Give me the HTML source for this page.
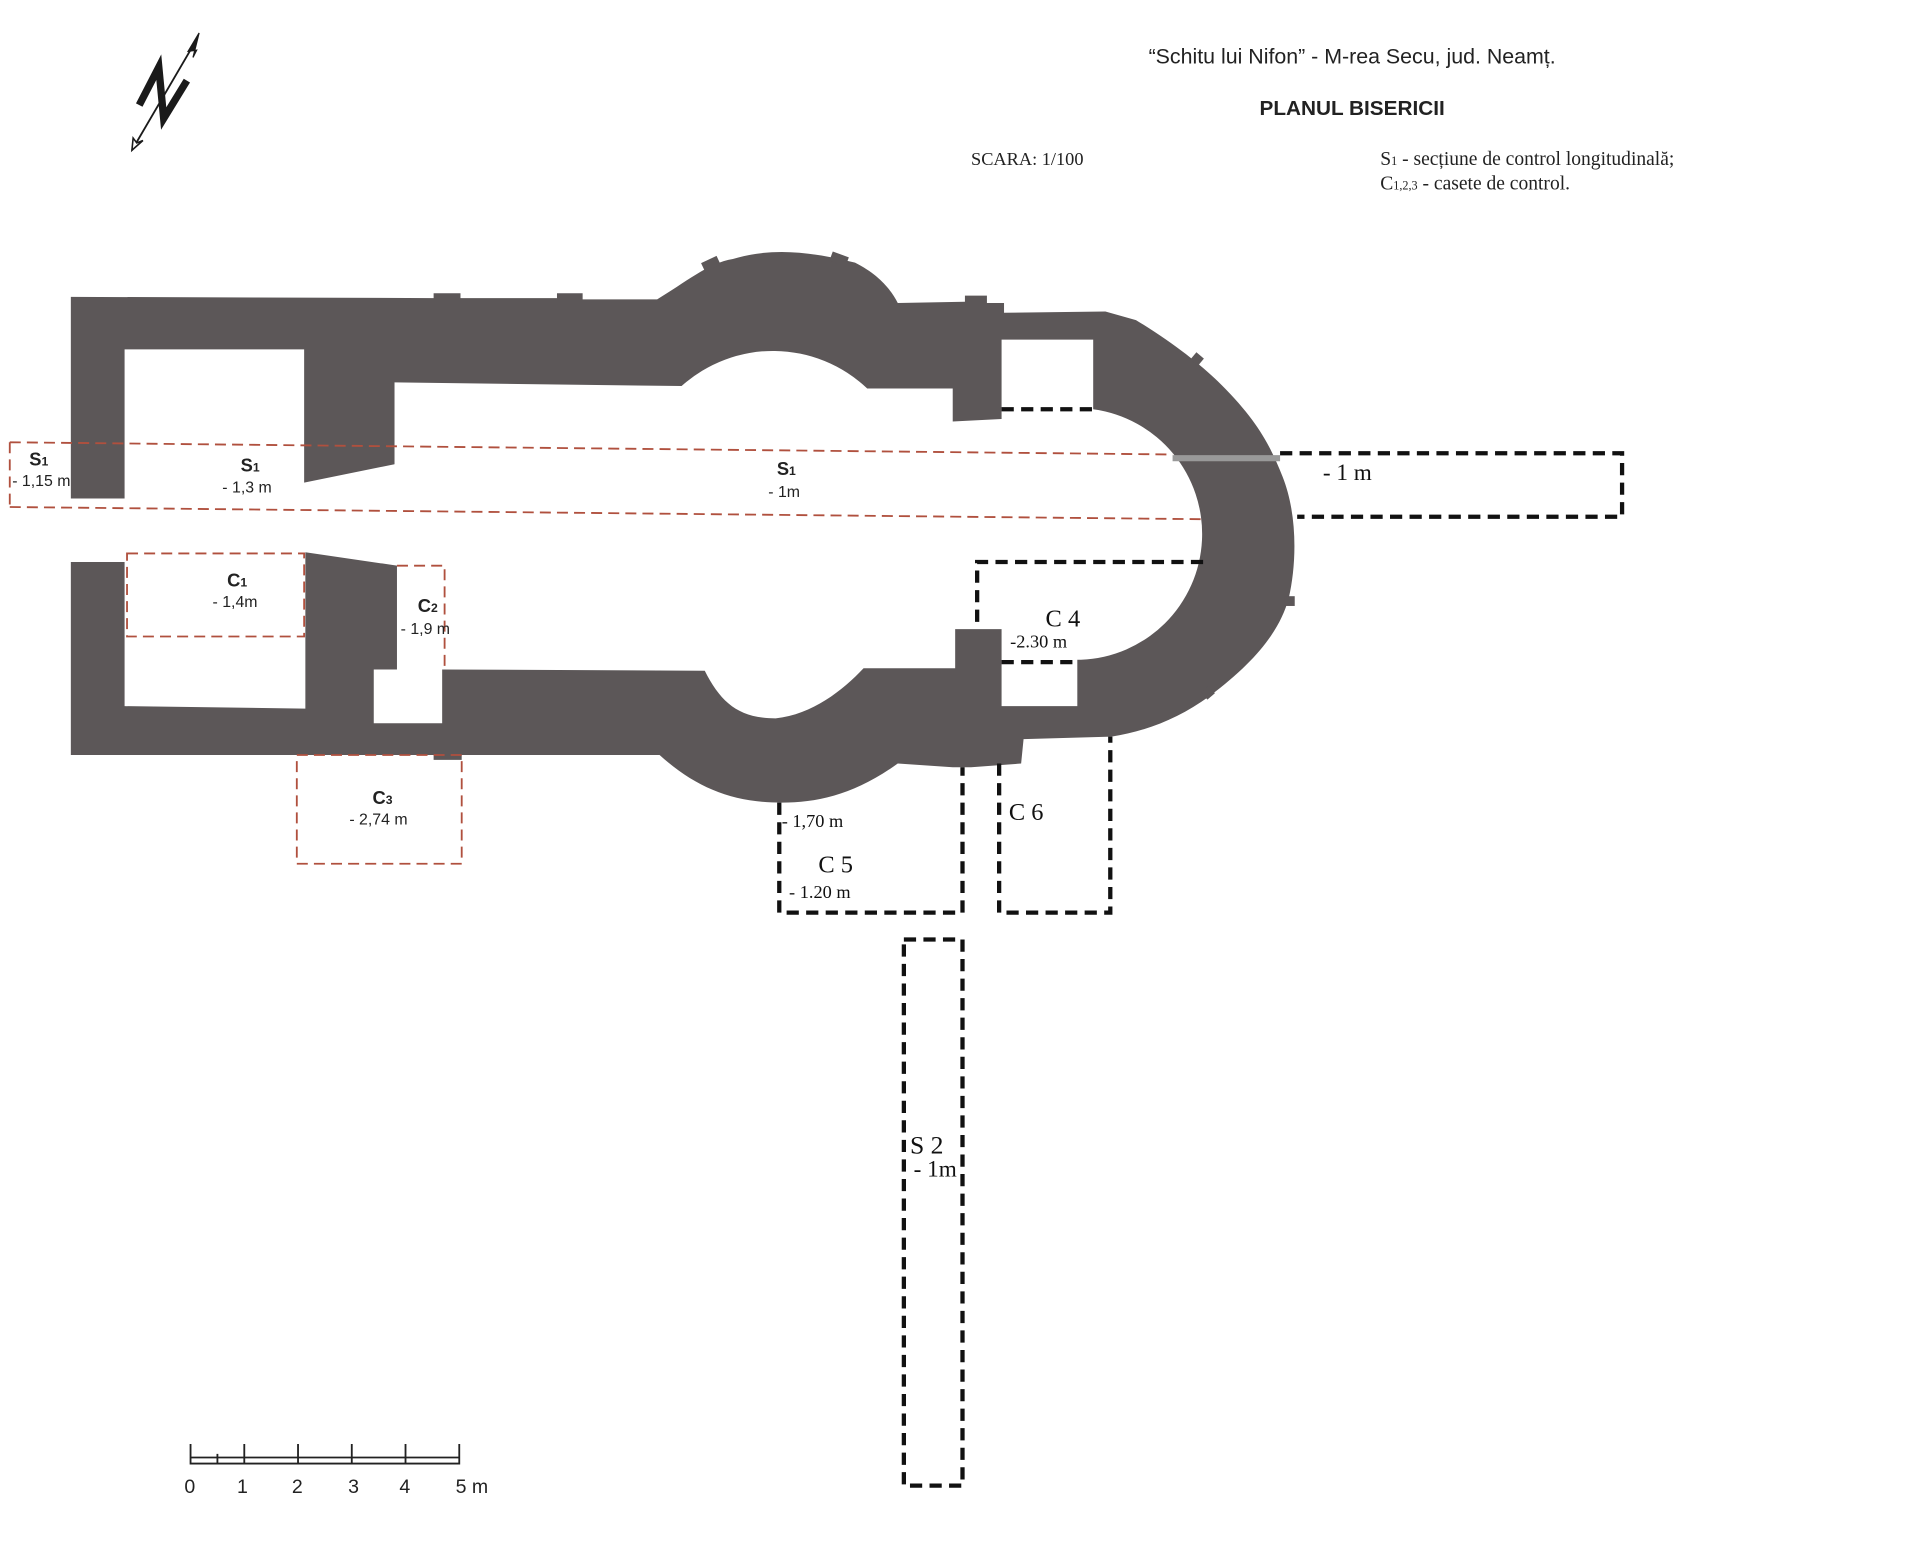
<!DOCTYPE html>
<html><head><meta charset="utf-8"><style>
html,body{margin:0;padding:0;background:#fff;}
svg{display:block;}
.b{font-family:"Liberation Sans",sans-serif;font-weight:bold;}
.s{font-family:"Liberation Sans",sans-serif;}
.t{font-family:"Liberation Serif",serif;}
</style></head><body>
<svg width="1914" height="1554" viewBox="0 0 1567 1272" preserveAspectRatio="none" xmlns="http://www.w3.org/2000/svg">
<rect width="1567" height="1272" fill="#fff"/>
<g stroke="#1a1a1a" fill="none">
<line x1="108" y1="123" x2="160" y2="34" stroke-width="1.5"/>
<path d="M163,27 L154,42 L161,41 L158,47 Z" fill="#1a1a1a" stroke-width="1"/>
<path d="M108,123 l1,-10 l3,4 l5,-2 z" fill="#fff" stroke-width="1.3"/>
<path d="M114,86 L130,55 L134,97 L153,66" stroke-width="6" stroke-linejoin="miter"/>
</g>
<text x="1107" y="52" class="s" font-size="17.5" text-anchor="middle" fill="#222">“Schitu lui Nifon” - M-rea Secu, jud. Neamț.</text>
<text x="1107" y="94" class="b" font-size="17" text-anchor="middle" fill="#222">PLANUL BISERICII</text>
<text x="795" y="135" class="t" font-size="15" fill="#222">SCARA: 1/100</text>
<text x="1130" y="135" class="t" font-size="16" fill="#222">S<tspan font-size="10">1</tspan> - secțiune de control longitudinală;</text>
<text x="1130" y="155" class="t" font-size="16" fill="#222">C<tspan font-size="10">1,2,3</tspan> - casete de control.</text>
<path fill="#5c5758" d="M58,243 L355,244 L355,240 L377,240 L377,244 L456,244 L456,240 L477,240 L477,245 L538,245 C560,232 580,215 600,212 C630,203 660,205 700,215 C720,225 730,238 735,248 L790,247 L790,242 L808,242 L808,248 L822,248 L822,256 L905,255 L930,262 C960,280 985,300 1000,315 C1030,345 1040,365 1050,390 C1062,420 1062,460 1055,490 C1048,515 1030,540 990,570 C965,588 940,598 910,603 L838,605 L836,625 L795,628 L780,628 L735,625 C700,650 670,657 640,657 C600,657 570,645 540,618 L378,618 L378,622 L355,622 L355,618 L58,618 Z"/>
<path fill="#fff" d="M0,408 L102,408 L102,286 L249,286 L249,395 L323,380 L323,313 L558,316 A112 112 0 0 1 710,318 L780,318 L780,345 L820,343 L820,278 L895,278 L895,335 A103 103 0 0 1 885,540 L882,540 L882,578 L820,578 L820,515 L782,515 L782,547 L707,547 C690,565 665,585 635,588 C605,588 590,575 577,549 L362,548 L362,592 L306,592 L306,548 L325,548 L325,463 L250,452 L250,580 L102,578 L102,460 L0,460 Z"/>
<rect x="0" y="408" width="58" height="52" fill="#fff"/>
<g fill="#5c5758">
<rect x="976" y="290" width="8" height="8" transform="rotate(40 980 294)"/>
<rect x="1052" y="488" width="8" height="8"/>
<rect x="985" y="563" width="8" height="8" transform="rotate(-40 989 567)"/>
<rect x="575" y="212" width="14" height="8" transform="rotate(-25 582 216)"/>
<rect x="680" y="208" width="14" height="8" transform="rotate(20 687 212)"/>
</g>
<g stroke="#b0503e" stroke-width="1.5" fill="none" stroke-dasharray="9,5">
<path d="M8,362 L960,372 M8,415 L985,425 M8,362 L8,415"/>
<rect x="104" y="453" width="145" height="68"/>
<path d="M325,463 L364,463 L364,548"/>
<rect x="243" y="618" width="135" height="89"/>
</g>
<line x1="960" y1="375" x2="1048" y2="375" stroke="#999" stroke-width="5"/>
<g stroke="#111" stroke-width="3.5" fill="none" stroke-dasharray="10,6">
<path d="M1048,371 L1328,371 L1328,423 L1062,423"/>
<path d="M820,335 L895,335"/>
<path d="M985,460 L800,460 L800,515 M820,542 L882,542"/>
<path d="M638,657 L638,747 L788,747 L788,628"/>
<path d="M818,625 L818,747 L909,747 L909,603"/>
<rect x="740" y="769" width="48" height="447"/>
</g>
<text x="24" y="381" class="b" font-size="15" fill="#222">S<tspan font-size="10">1</tspan></text>
<text x="10" y="398" class="s" font-size="13" fill="#222">- 1,15 m</text>
<text x="197" y="386" class="b" font-size="15" fill="#222">S<tspan font-size="10">1</tspan></text>
<text x="182" y="403" class="s" font-size="13" fill="#222">- 1,3 m</text>
<text x="636" y="389" class="b" font-size="15" fill="#222">S<tspan font-size="10">1</tspan></text>
<text x="629" y="407" class="s" font-size="13" fill="#222">- 1m</text>
<text x="1083" y="393" class="t" font-size="19" fill="#111">- 1 m</text>
<text x="186" y="480" class="b" font-size="15" fill="#222">C<tspan font-size="10">1</tspan></text>
<text x="174" y="497" class="s" font-size="13" fill="#222">- 1,4m</text>
<text x="342" y="501" class="b" font-size="15" fill="#222">C<tspan font-size="10">2</tspan></text>
<text x="328" y="519" class="s" font-size="13" fill="#222">- 1,9 m</text>
<text x="305" y="658" class="b" font-size="15" fill="#222">C<tspan font-size="10">3</tspan></text>
<text x="286" y="675" class="s" font-size="13" fill="#222">- 2,74 m</text>
<text x="856" y="513" class="t" font-size="20" fill="#111">C 4</text>
<text x="827" y="530" class="t" font-size="15" fill="#111">-2.30 m</text>
<text x="640" y="677" class="t" font-size="15" fill="#111">- 1,70 m</text>
<text x="670" y="714" class="t" font-size="20" fill="#111">C 5</text>
<text x="646" y="735" class="t" font-size="15" fill="#111">- 1.20 m</text>
<text x="826" y="671" class="t" font-size="20" fill="#111">C 6</text>
<text x="745" y="944" class="t" font-size="21" fill="#111">S 2</text>
<text x="748" y="963" class="t" font-size="19" fill="#111">- 1m</text>
<g stroke="#222" stroke-width="1.5" fill="none">
<path d="M156,1182 L156,1198 L376,1198 L376,1182 M156,1193 L376,1193 M200,1182 L200,1198 M244,1182 L244,1198 M288,1182 L288,1198 M332,1182 L332,1198 M178,1190 L178,1198"/>
</g>
<g class="s" font-size="16" fill="#222">
<text x="151" y="1222">0</text><text x="194" y="1222">1</text><text x="239" y="1222">2</text>
<text x="285" y="1222">3</text><text x="327" y="1222">4</text><text x="373" y="1222">5 m</text>
</g>
</svg>
</body></html>
